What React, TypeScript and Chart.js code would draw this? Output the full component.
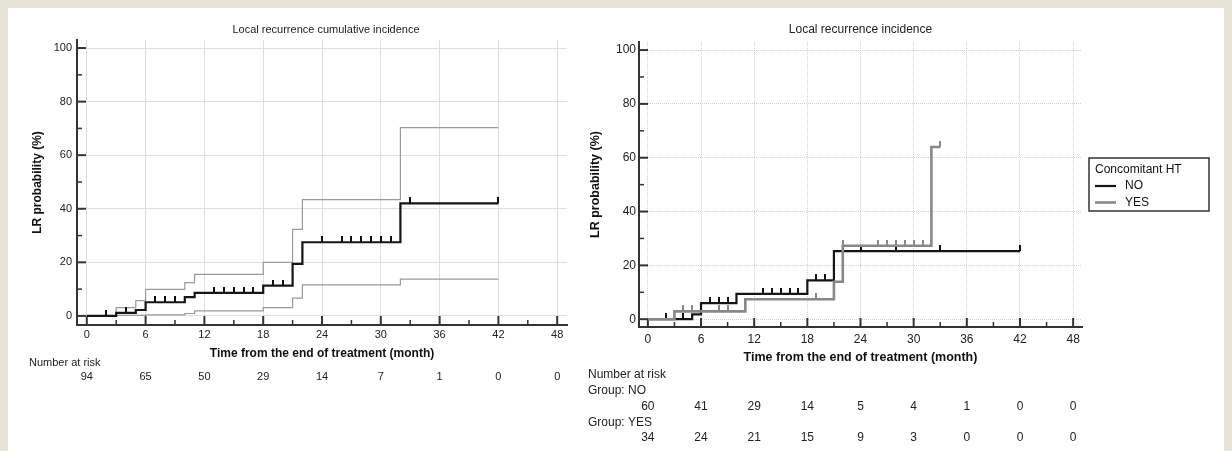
import React, { useEffect, useRef } from "react";
import { Chart, registerables } from "chart.js";

Chart.register(...registerables);

const FONT = "'Liberation Sans', Arial, Helvetica, sans-serif";

// ---------- axes ----------
const X_TICKS = [0, 6, 12, 18, 24, 30, 36, 42, 48];
const X_MINOR = [3, 9, 15, 21, 27, 33, 39, 45];
const Y_TICKS = [0, 20, 40, 60, 80, 100];
const Y_MINOR = [10, 30, 50, 70, 90];
const RISK_TIMES = [0, 6, 12, 18, 24, 30, 36, 42, 48];

// ---------- left panel: overall cumulative incidence + 95% CI ----------
const ALL_TIME = [0, 3, 5, 6, 10, 11, 18, 21, 22, 32, 42];
const ALL_EST = [0, 1.1, 2.2, 5.1, 7.0, 8.6, 11.3, 19.4, 27.5, 42.0, 42.0];
const ALL_UPPER = [0, 3.1, 5.7, 9.9, 12.4, 15.5, 20.0, 32.3, 43.4, 70.3, 70.3];
const ALL_LOWER = [0, 0.2, 0.2, 0.4, 0.9, 1.9, 3.1, 6.6, 11.6, 13.7, 13.7];
const ALL_CENSOR = [2, 4, 7, 8, 9, 13, 14, 15, 16, 17, 19, 20, 24, 26, 27, 28, 29, 30, 31, 33, 42];
const ALL_AT_RISK = [94, 65, 50, 29, 14, 7, 1, 0, 0];

// ---------- right panel: by concomitant HT ----------
const NO_TIME = [0, 5, 6, 10, 18, 21, 42];
const NO_EST = [0, 1.8, 6.0, 9.4, 14.4, 25.3, 25.3];
const NO_CENSOR = [2, 4, 7, 8, 9, 13, 14, 15, 16, 17, 19, 20, 24, 28, 33, 42];
const NO_AT_RISK = [60, 41, 29, 14, 5, 4, 1, 0, 0];

const YES_TIME = [0, 3, 11, 21, 22, 32, 33];
const YES_EST = [0, 2.9, 7.4, 13.9, 27.3, 64.0, 64.0];
const YES_CENSOR = [4, 5, 8, 9, 19, 22, 26, 27, 28, 29, 30, 31, 33];
const YES_AT_RISK = [34, 24, 21, 15, 9, 3, 0, 0, 0];

// ---------- helpers ----------
const pts = (t: number[], v: number[]) => t.map((x, i) => ({ x, y: v[i] }));
const stepAt = (t: number[], v: number[], x: number) => {
  let y = v[0];
  for (let i = 0; i < t.length; i++) if (t[i] <= x) y = v[i];
  return y;
};
const censorPts = (t: number[], v: number[], c: number[]) =>
  c.map((x) => ({ x, y: stepAt(t, v, x) }));

function tickImage(color: string, w: number, len: number) {
  const c = document.createElement("canvas");
  c.width = w;
  c.height = len * 2;
  const g = c.getContext("2d")!;
  g.fillStyle = color;
  g.fillRect(0, 0, w, len);
  return c;
}

const decoPlugin = {
  id: "deco",
  beforeDatasetsDraw(chart: any, _a: any, o: any) {
    const { ctx, chartArea: a } = chart;
    const x = chart.scales.x;
    const y = chart.scales.y;
    ctx.save();
    ctx.strokeStyle = o.axisColor;
    const seg = (x1: number, y1: number, x2: number, y2: number, w: number) => {
      ctx.lineWidth = w;
      ctx.beginPath();
      ctx.moveTo(x1, y1);
      ctx.lineTo(x2, y2);
      ctx.stroke();
    };
    Y_TICKS.forEach((v) => {
      const p = y.getPixelForValue(v);
      seg(a.left, p, a.left + o.majorLen, p, 2);
    });
    Y_MINOR.forEach((v) => {
      const p = y.getPixelForValue(v);
      seg(a.left, p, a.left + o.minorLen, p, 1.5);
    });
    X_TICKS.forEach((v) => {
      const p = x.getPixelForValue(v);
      seg(p, a.bottom, p, a.bottom - o.majorLen, 2);
    });
    X_MINOR.forEach((v) => {
      const p = x.getPixelForValue(v);
      seg(p, a.bottom, p, a.bottom - o.minorLen, 1.5);
    });
    ctx.restore();
  },
  afterDraw(chart: any, _a: any, o: any) {
    const { ctx, chartArea: a } = chart;
    const x = chart.scales.x;
    ctx.save();
    ctx.fillStyle = "#222";
    ctx.textBaseline = "middle";
    ctx.textAlign = "center";
    ctx.font = `${o.titleSize}px ${FONT}`;
    ctx.fillText(o.title, (a.left + a.right) / 2 + (o.titleDx || 0), o.titleY);

    ctx.font = `${o.riskSize}px ${FONT}`;
    ctx.textAlign = "left";
    o.riskLabels.forEach((r: any) => ctx.fillText(r.text, o.riskX, r.y));
    ctx.textAlign = "center";
    o.riskRows.forEach((r: any) =>
      r.values.forEach((n: number, i: number) =>
        ctx.fillText(String(n), x.getPixelForValue(RISK_TIMES[i]), r.y)
      )
    );

    if (o.legend) {
      const L = o.legend;
      const lx = a.right + L.dx;
      const ly = (a.top + a.bottom) / 2 - L.h / 2;
      ctx.strokeStyle = "#333";
      ctx.lineWidth = 1.5;
      ctx.strokeRect(lx, ly, L.w, L.h);
      ctx.font = `${L.size}px ${FONT}`;
      ctx.textAlign = "left";
      ctx.fillStyle = "#111";
      ctx.fillText(L.title, lx + 6, ly + 12);
      chart.data.datasets
        .filter((d: any) => d.inLegend)
        .forEach((d: any, i: number) => {
          const yy = ly + 28 + i * 16.5;
          ctx.strokeStyle = d.borderColor;
          ctx.lineWidth = d.borderWidth;
          ctx.beginPath();
          ctx.moveTo(lx + 6, yy);
          ctx.lineTo(lx + 27, yy);
          ctx.stroke();
          ctx.fillText(d.label, lx + 36, yy);
        });
    }
    ctx.restore();
  },
};

function makeScales(c: any) {
  return {
    x: {
      type: "linear",
      min: -1,
      max: 49,
      afterBuildTicks: (s: any) => {
        s.ticks = X_TICKS.map((v) => ({ value: v }));
      },
      afterFit: (s: any) => {
        s.height = c.xHeight;
      },
      grid: { color: c.gridColor, lineWidth: 1, drawTicks: false },
      border: { display: true, color: "#333", width: 2, dash: c.gridDash },
      ticks: {
        padding: c.xTickPad,
        color: "#222",
        font: { size: c.tickSize, family: FONT },
        maxRotation: 0,
        autoSkip: false,
      },
      title: {
        display: true,
        text: "Time from the end of treatment (month)",
        color: "#111",
        font: { size: c.axisTitleSize, weight: "bold", family: FONT },
        padding: { top: 0, bottom: c.xTitlePad },
      },
    },
    y: {
      type: "linear",
      min: c.yMin,
      max: c.yMax,
      afterBuildTicks: (s: any) => {
        s.ticks = Y_TICKS.map((v) => ({ value: v }));
      },
      afterFit: (s: any) => {
        s.width = c.yWidth;
      },
      grid: { color: c.gridColor, lineWidth: 1, drawTicks: false },
      border: { display: true, color: "#333", width: 2, dash: c.gridDash },
      ticks: {
        padding: c.yTickPad,
        color: "#222",
        font: { size: c.tickSize, family: FONT },
      },
      title: {
        display: true,
        text: "LR probability (%)",
        color: "#111",
        font: { size: c.axisTitleSize, weight: "bold", family: FONT },
        padding: { top: c.yTitlePad, bottom: 0 },
      },
    },
  };
}

export default function App() {
  const leftRef = useRef<HTMLCanvasElement>(null);
  const rightRef = useRef<HTMLCanvasElement>(null);

  useEffect(() => {
    Chart.defaults.font.family = FONT;
    const blackTick = tickImage("#111", 2, 6);
    const grayTick = tickImage("#888", 2, 6);

    const left = new Chart(leftRef.current!, {
      type: "line",
      data: {
        datasets: [
          {
            label: "Cumulative incidence",
            data: pts(ALL_TIME, ALL_EST),
            borderColor: "#151515",
            borderWidth: 2.2,
            stepped: true,
            pointRadius: 0,
            order: 1,
          },
          {
            label: "Censored",
            type: "scatter",
            data: censorPts(ALL_TIME, ALL_EST, ALL_CENSOR),
            pointStyle: blackTick,
            pointRadius: 3,
            showLine: false,
            order: 0,
          },
          {
            label: "Upper 95% CI",
            data: pts(ALL_TIME, ALL_UPPER),
            borderColor: "#9a9a9a",
            borderWidth: 1.2,
            stepped: true,
            pointRadius: 0,
            order: 3,
          },
          {
            label: "Lower 95% CI",
            data: pts(ALL_TIME, ALL_LOWER),
            borderColor: "#9a9a9a",
            borderWidth: 1.2,
            stepped: true,
            pointRadius: 0,
            order: 3,
          },
        ] as any,
      },
      options: {
        animation: false,
        responsive: false,
        events: [],
        layout: { padding: { left: 0, right: 78, top: 40, bottom: 81 } },
        scales: makeScales({
          xHeight: 45,
          yWidth: 77,
          yMin: -3.4,
          yMax: 103,
          gridColor: "#dedede",
          gridDash: [],
          tickSize: 11,
          axisTitleSize: 12,
          xTickPad: 3,
          yTickPad: 5,
          xTitlePad: 9.5,
          yTitlePad: 30.5,
        }) as any,
        plugins: {
          legend: { display: false },
          tooltip: { enabled: false },
          deco: {
            axisColor: "#333",
            majorLen: 9,
            minorLen: 5,
            title: "Local recurrence cumulative incidence",
            titleSize: 11,
            titleY: 30,
            titleDx: 4,
            riskSize: 11,
            riskX: 29,
            riskLabels: [{ text: "Number at risk", y: 363 }],
            riskRows: [{ values: ALL_AT_RISK, y: 377 }],
          },
        } as any,
      },
      plugins: [decoPlugin],
    });

    const right = new Chart(rightRef.current!, {
      type: "line",
      data: {
        datasets: [
          {
            label: "NO",
            data: pts(NO_TIME, NO_EST),
            borderColor: "#151515",
            borderWidth: 2.2,
            stepped: true,
            pointRadius: 0,
            order: 3,
            inLegend: true,
          },
          {
            label: "YES",
            data: pts(YES_TIME, YES_EST),
            borderColor: "#888888",
            borderWidth: 2.6,
            stepped: true,
            pointRadius: 0,
            order: 1,
            inLegend: true,
          },
          {
            label: "NO censored",
            type: "scatter",
            data: censorPts(NO_TIME, NO_EST, NO_CENSOR),
            pointStyle: blackTick,
            pointRadius: 3,
            showLine: false,
            order: 2,
          },
          {
            label: "YES censored",
            type: "scatter",
            data: censorPts(YES_TIME, YES_EST, YES_CENSOR),
            pointStyle: grayTick,
            pointRadius: 3,
            showLine: false,
            order: 0,
          },
        ] as any,
      },
      options: {
        animation: false,
        responsive: false,
        events: [],
        layout: { padding: { left: 0, right: 150, top: 42, bottom: 79 } },
        scales: makeScales({
          xHeight: 45,
          yWidth: 64,
          yMin: -2.9,
          yMax: 103,
          gridColor: "#cfcfcf",
          gridDash: [1, 1],
          tickSize: 12,
          axisTitleSize: 12.5,
          xTickPad: 5,
          yTickPad: 3,
          xTitlePad: 7,
          yTitlePad: 13,
        }) as any,
        plugins: {
          legend: { display: false },
          tooltip: { enabled: false },
          deco: {
            axisColor: "#333",
            majorLen: 9,
            minorLen: 5,
            title: "Local recurrence incidence",
            titleSize: 12,
            titleY: 30,
            riskSize: 12,
            riskX: 13,
            riskLabels: [
              { text: "Number at risk", y: 375 },
              { text: "Group: NO", y: 391 },
              { text: "Group: YES", y: 423 },
            ],
            riskRows: [
              { values: NO_AT_RISK, y: 407 },
              { values: YES_AT_RISK, y: 438 },
            ],
            legend: { dx: 7, w: 120, h: 53, size: 12, title: "Concomitant HT" },
          },
        } as any,
      },
      plugins: [decoPlugin],
    });

    return () => {
      left.destroy();
      right.destroy();
    };
  }, []);

  return (
    <div
      style={{
        position: "fixed",
        left: 0,
        top: 0,
        width: 1232,
        height: 451,
        background: "#e8e3d8",
        overflow: "hidden",
      }}
    >
      <div
        style={{
          position: "absolute",
          left: 8,
          top: 8,
          right: 8,
          bottom: 0,
          background: "#ffffff",
        }}
      />
      <canvas
        ref={leftRef}
        width={645}
        height={451}
        style={{ position: "absolute", left: 0, top: 0 }}
      />
      <canvas
        ref={rightRef}
        width={657}
        height={451}
        style={{ position: "absolute", left: 575, top: 0 }}
      />
    </div>
  );
}
